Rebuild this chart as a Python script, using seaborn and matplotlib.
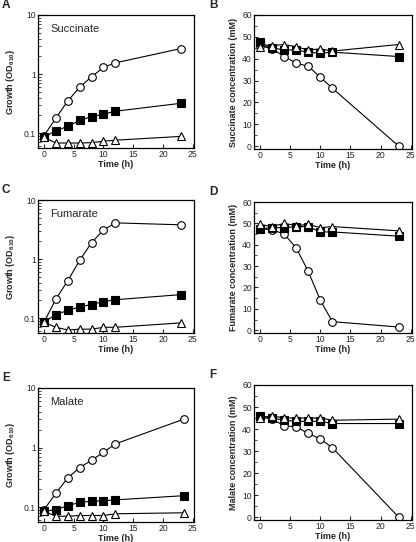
import numpy as np
import pandas as pd
import matplotlib
matplotlib.use("Agg")
import matplotlib.pyplot as plt
from matplotlib.ticker import LogLocator, FixedLocator, NullFormatter, MultipleLocator, NullLocator
import seaborn as sns

sns.set_theme(style="ticks")
plt.rcParams['font.family'] = ['Liberation Sans', 'DejaVu Sans']
plt.rcParams['mathtext.fontset'] = 'custom'
plt.rcParams['mathtext.rm'] = 'Liberation Sans'
plt.rcParams['mathtext.bf'] = 'Liberation Sans:bold'

# ---- data ----
time = [0, 2, 4, 6, 8, 10, 12, 23]
time_mal = [0, 2, 4, 6, 8, 10, 12, 23.5]

succ_growth_circle = [0.09, 0.18, 0.35, 0.6, 0.9, 1.3, 1.55, 2.7]
succ_growth_square = [0.085, 0.11, 0.13, 0.165, 0.19, 0.21, 0.235, 0.32]
succ_growth_triangle = [0.085, 0.068, 0.068, 0.068, 0.069, 0.073, 0.076, 0.088]

succ_conc_circle = [46, 44.5, 41, 38, 36.5, 31.5, 26.5, 0]
succ_conc_square = [47.5, 45, 44, 44, 43, 42.5, 43, 41]
succ_conc_triangle = [45.5, 46, 46.5, 45.5, 44, 44.5, 43.5, 46.5]

fum_growth_circle = [0.085, 0.21, 0.43, 0.95, 1.9, 3.1, 4.1, 3.8]
fum_growth_square = [0.085, 0.115, 0.135, 0.155, 0.17, 0.19, 0.205, 0.25]
fum_growth_triangle = [0.085, 0.07, 0.063, 0.065, 0.065, 0.07, 0.07, 0.083]

fum_conc_circle = [47.5, 47, 45, 38.5, 27.5, 14, 4, 1.5]
fum_conc_square = [47.5, 48, 48, 48.5, 48.5, 46, 46, 44]
fum_conc_triangle = [49.5, 48.5, 50, 49, 49.5, 48, 48.5, 46.5]

mal_growth_circle = [0.09, 0.17, 0.31, 0.46, 0.61, 0.83, 1.15, 3.0]
mal_growth_square = [0.085, 0.09, 0.105, 0.12, 0.125, 0.127, 0.132, 0.155]
mal_growth_triangle = [0.085, 0.07, 0.07, 0.072, 0.072, 0.072, 0.077, 0.08]

mal_conc_circle = [45.5, 44.5, 41.5, 41, 38, 35.5, 31.5, 0]
mal_conc_square = [46, 45, 44, 43.5, 43.5, 43.5, 42.5, 42.5]
mal_conc_triangle = [45, 46, 45, 45, 45, 45, 44, 44.5]

substrates = ["Succinate", "Fumarate", "Malate"]
panel_letters = ["A", "B", "C", "D", "E", "F"]

W, H = 416, 542
fig = plt.figure(figsize=(W / 100, H / 100), dpi=100)

def rect(l, t, r, b):
    return [l / W, 1 - b / H, (r - l) / W, (b - t) / H]

growth_rects = [rect(38, 15, 194, 148), rect(38, 200, 194, 333), rect(38, 388, 194, 522)]
conc_rects = [rect(254, 15, 412, 149), rect(254, 202, 412, 333), rect(254, 385, 412, 520)]

growth_data = [
    (time, succ_growth_circle, succ_growth_square, succ_growth_triangle),
    (time, fum_growth_circle, fum_growth_square, fum_growth_triangle),
    (time_mal, mal_growth_circle, mal_growth_square, mal_growth_triangle),
]
conc_data = [
    (time, succ_conc_circle, succ_conc_square, succ_conc_triangle),
    (time, fum_conc_circle, fum_conc_square, fum_conc_triangle),
    (time, mal_conc_circle, mal_conc_square, mal_conc_triangle),
]

styles = [
    dict(marker='o', markerfacecolor='white'),
    dict(marker='s', markerfacecolor='black'),
    dict(marker='^', markerfacecolor='white'),
]

lab_fs = 6.5
tick_fs = 6.2

def draw(ax, t, series):
    for vals, st in zip(series, styles):
        df = pd.DataFrame({"t": t, "v": vals})
        sns.lineplot(data=df, x="t", y="v", ax=ax, color='black', lw=0.8,
                     markeredgecolor='black', markeredgewidth=0.8, markersize=5.5,
                     sort=False, estimator=None, **st)

def style_ax(ax):
    for s in ax.spines.values():
        s.set_linewidth(0.9)
        s.set_color('black')
    ax.tick_params(direction='in', which='major', length=3, width=0.8, labelsize=tick_fs, pad=1.5,
                   top=False, right=False)
    ax.tick_params(direction='in', which='minor', length=1.8, width=0.6)
    ax.set_xlim(-1, 25.2)
    ax.xaxis.set_major_locator(FixedLocator([0, 5, 10, 15, 20, 25]))
    ax.xaxis.set_minor_locator(NullLocator())
    ax.set_xlabel("Time (h)", fontsize=lab_fs, fontweight='bold', labelpad=0.5)

for i in range(3):
    ax = fig.add_axes(growth_rects[i])
    t, c, s, tr = growth_data[i]
    draw(ax, t, (c, s, tr))
    ax.set_yscale('log')
    ax.set_ylim(0.056, 10)
    ax.yaxis.set_major_locator(FixedLocator([0.1, 1, 10]))
    ax.set_yticklabels(["0.1", "1", "10"])
    ax.yaxis.set_minor_locator(LogLocator(base=10, subs=np.arange(2, 10)))
    ax.yaxis.set_minor_formatter(NullFormatter())
    style_ax(ax)
    ax.set_ylabel(r'Growth (OD$_{\mathbf{610}}$)', fontsize=lab_fs, fontweight='bold', labelpad=5)
    ax.text(0.08, 0.93, substrates[i], transform=ax.transAxes, fontsize=8, va='top', ha='left')
    fig.text(2 / W, growth_rects[i][1] + growth_rects[i][3] + 4 / H,
             panel_letters[2 * i], fontsize=8.5, fontweight='bold', ha='left', va='bottom')

    ax2 = fig.add_axes(conc_rects[i])
    t, c, s, tr = conc_data[i]
    draw(ax2, t, (c, s, tr))
    ax2.set_ylim(-1.3, 60)
    ax2.yaxis.set_major_locator(FixedLocator([0, 10, 20, 30, 40, 50, 60]))
    ax2.yaxis.set_minor_locator(MultipleLocator(5))
    style_ax(ax2)
    ax2.set_ylabel(f"{substrates[i]} concentration (mM)", fontsize=lab_fs, fontweight='bold', labelpad=3)
    fig.text(209 / W, conc_rects[i][1] + conc_rects[i][3] + 4 / H,
             panel_letters[2 * i + 1], fontsize=8.5, fontweight='bold', ha='left', va='bottom')

fig.savefig("out.png", dpi=100, facecolor='white')
